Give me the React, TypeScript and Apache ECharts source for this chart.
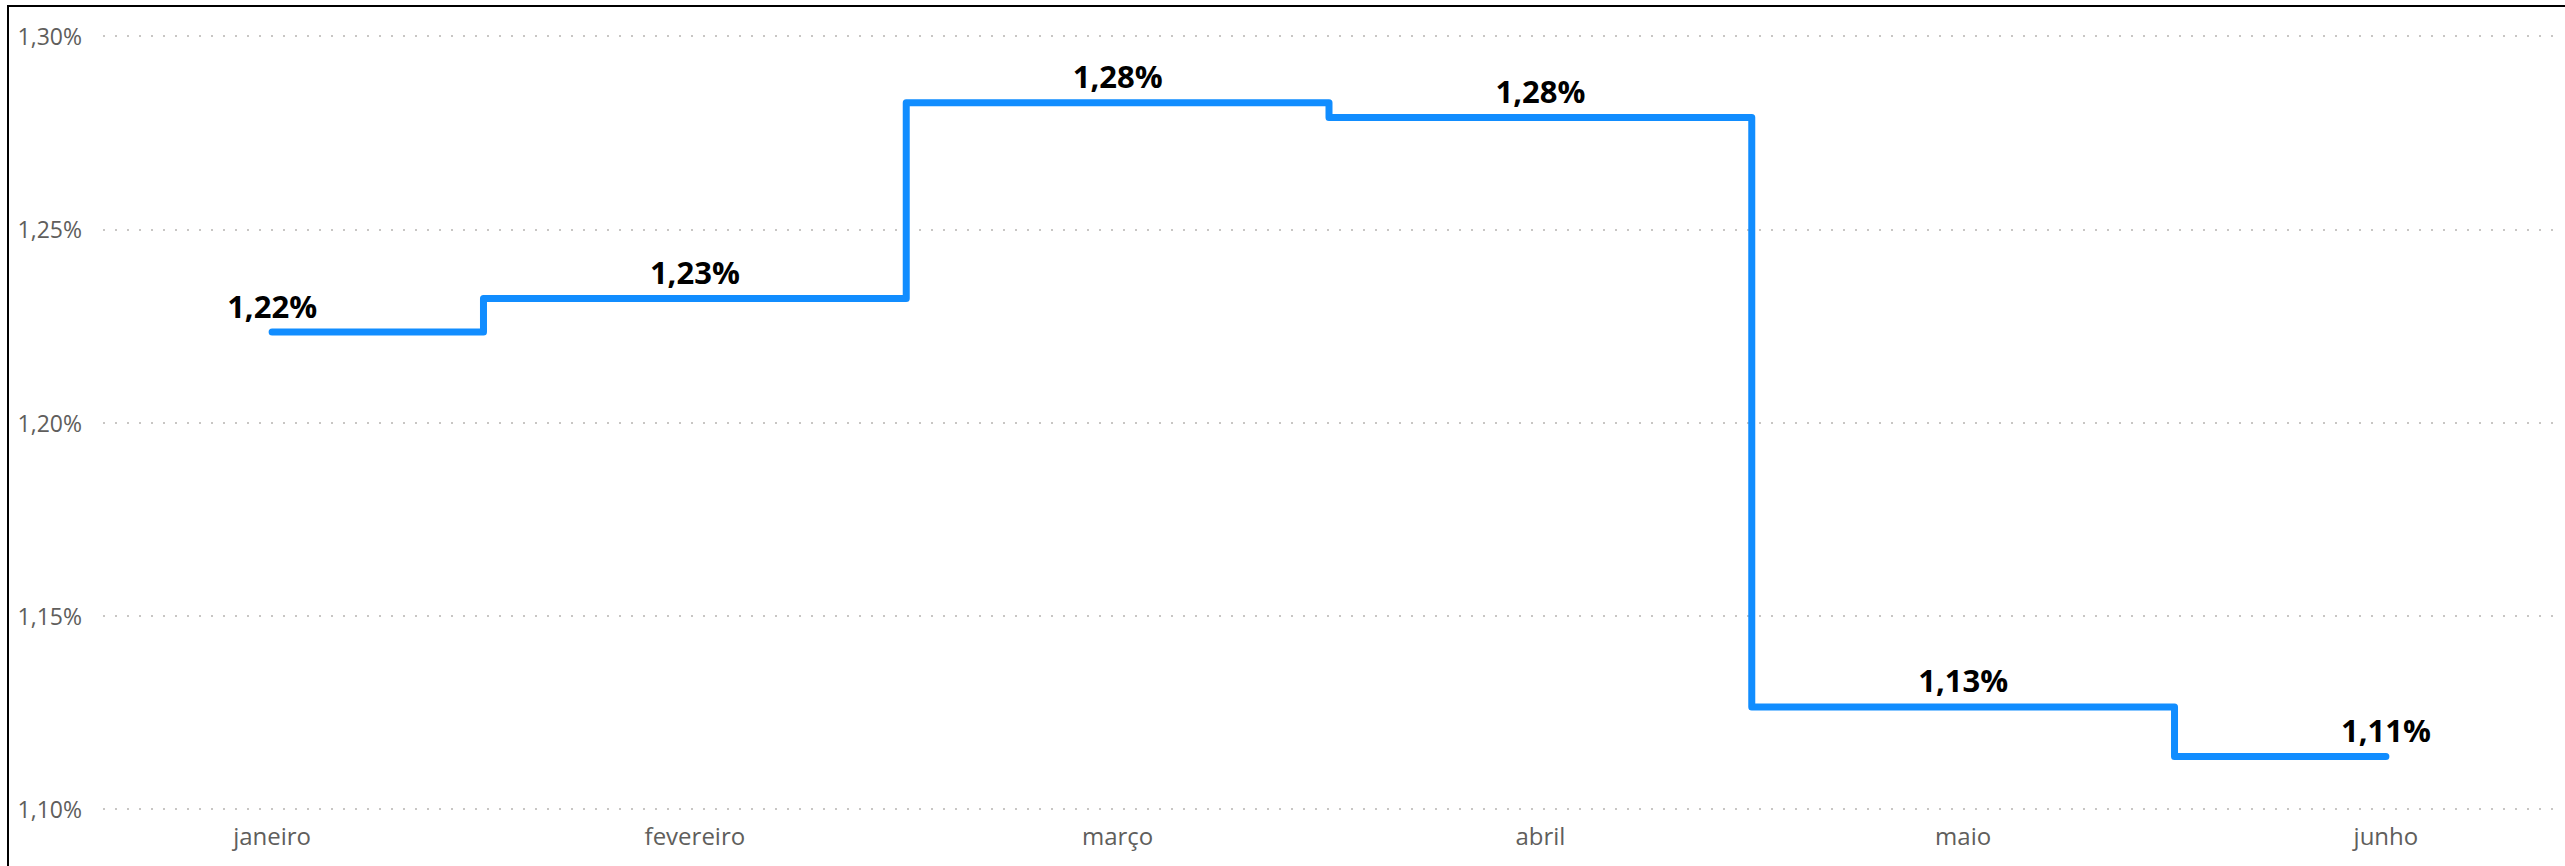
import React, { useEffect, useRef } from "react";
import * as echarts from "echarts";

const months = ["janeiro", "fevereiro", "março", "abril", "maio", "junho"];
const values = [1.2234, 1.2321, 1.2827, 1.2789, 1.1264, 1.1136];
const yTicks = [1.1, 1.15, 1.2, 1.25, 1.3];

const fmt = (v: number) => v.toFixed(2).replace(".", ",") + "%";
const FONT = "'Open Sans', 'Noto Sans', sans-serif";

export default function App() {
  const ref = useRef<HTMLDivElement>(null);
  useEffect(() => {
    if (!ref.current) return;
    const chart = echarts.init(ref.current, undefined, { renderer: "svg" });
    chart.setOption({
      animation: false,
      backgroundColor: "transparent",
      grid: { left: 103, right: 10, top: 36, bottom: 57, containLabel: false },
      xAxis: {
        type: "value",
        min: -0.4,
        max: 5.4,
        interval: 0.2,
        axisLine: { show: false },
        axisTick: { show: false },
        splitLine: { show: false },
        axisLabel: {
          show: true,
          margin: 14,
          color: "#605E5C",
          fontFamily: FONT,
          fontSize: 24,
          formatter: (v: number) => {
            const r = Math.round(v);
            if (Math.abs(v - r) < 1e-6 && r >= 0 && r < months.length) return months[r];
            return "";
          },
        },
      },
      yAxis: {
        type: "value",
        min: yTicks[0],
        max: yTicks[yTicks.length - 1],
        interval: 0.05,
        axisLine: { show: false },
        axisTick: { show: false },
        splitLine: {
          show: true,
          lineStyle: { color: "#C8C6C4", width: 2, type: [2, 10] },
        },
        axisLabel: {
          margin: 21,
          color: "#605E5C",
          fontFamily: FONT,
          fontSize: 23,
          formatter: (v: number) => fmt(v),
        },
      },
      series: [
        {
          type: "line",
          step: "middle",
          data: values.map((v, i) => [i, v]),
          symbol: "circle",
          symbolSize: 0.1,
          showSymbol: true,
          itemStyle: { color: "#118DFF" },
          lineStyle: { color: "#118DFF", width: 7, cap: "round", join: "round" },
          label: {
            show: true,
            position: "top",
            distance: 11,
            color: "#000",
            fontWeight: "bold",
            fontFamily: FONT,
            fontSize: 31,
            formatter: (p: any) => fmt(p.value[1]),
          },
        },
      ],
    });
    return () => chart.dispose();
  }, []);

  return (
    <div style={{ position: "fixed", left: 0, top: 0, width: 2565, height: 866, background: "#fff", overflow: "hidden" }}>
      <div
        style={{
          position: "absolute",
          left: 7,
          top: 5,
          width: 2600,
          height: 900,
          borderLeft: "2px solid #000",
          borderTop: "2px solid #000",
          boxSizing: "border-box",
        }}
      />
      <div ref={ref} style={{ position: "absolute", left: 0, top: 0, width: 2565, height: 866 }} />
    </div>
  );
}
